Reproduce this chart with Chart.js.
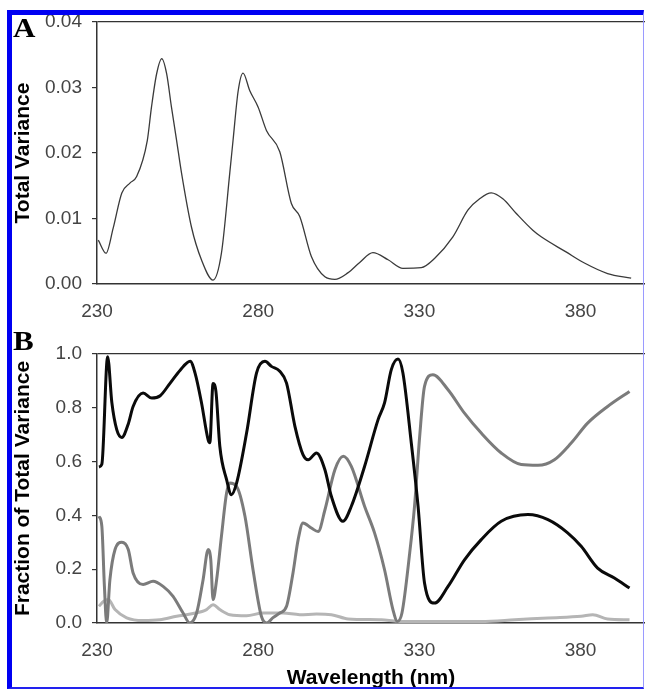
<!DOCTYPE html>
<html>
<head>
<meta charset="utf-8">
<title>Total variance / fraction of total variance</title>
<script src="https://cdn.jsdelivr.net/npm/chart.js@4.4.1/dist/chart.umd.min.js"></script>
<style>
  html, body { margin:0; padding:0; background:#fff; overflow:hidden; }
  #wrap { position:relative; width:645px; height:689px; background:#fff; }
  #wrap canvas { position:absolute; left:0; }
  #cA { top:0; }
  #cB { top:330px; }
  .frame {
    position:absolute; left:7px; top:10px; width:637px; height:679px; box-sizing:border-box;
    border-left:5px solid #0000f2; border-top:5px solid #0000f2;
    border-right:1px solid #9a9aff; border-bottom:2px solid #2222ee;
    pointer-events:none;
  }
  .panel {
    position:absolute; left:13px; font:bold 27px "Liberation Serif", "Times New Roman", serif;
    line-height:27px; color:#000; transform:scaleX(1.15); transform-origin:left top;
  }
</style>
</head>
<body>
<div id="wrap">
  <canvas id="cA" width="645" height="330"></canvas>
  <canvas id="cB" width="645" height="359"></canvas>
  <div class="panel" style="top:15px">A</div>
  <div class="panel" style="top:328px">B</div>
  <div class="frame"></div>
</div>

<script>
// ── Data ─────────────────────────────────────────────────────────
const wlTicks = [230, 280, 330, 380];
const varTicks = [0, 0.01, 0.02, 0.03, 0.04];
const fracTicks = [0, 0.2, 0.4, 0.6, 0.8, 1.0];

// Panel A: total variance
const totalWl = [230.4, 232.8, 235, 237.7, 240.2, 242.3, 245.6, 246.9, 248.5, 250.1, 251.6, 253.1,
  254.7, 256.2, 259.3, 262.4, 266, 268.6, 271.2, 272.2, 273.8, 275.3, 277.4, 280, 282.6, 286.7, 290.3,
  292.9, 296.5, 300.7, 303.8, 307.8, 311.5, 315.6, 320.3, 324.9, 330.6, 334.7, 340.4, 345.1, 348.7,
  352.3, 355.9, 360, 365.2, 367.8, 375.5, 381.2, 388.4, 395.7];
const totalVar = [0.0067, 0.0047, 0.0085, 0.0139, 0.0154, 0.0164, 0.0219, 0.027, 0.0321, 0.0344,
  0.0321, 0.027, 0.0219, 0.017, 0.0087, 0.0037, 0.0006, 0.0047, 0.017, 0.0219, 0.0295, 0.0322, 0.0295,
  0.027, 0.0234, 0.0202, 0.0123, 0.0103, 0.0042, 0.0011, 0.0007, 0.0017, 0.0033, 0.0048, 0.0037,
  0.0024, 0.0025, 0.0039, 0.0072, 0.0113, 0.013, 0.0139, 0.013, 0.0108, 0.0082, 0.0072, 0.0049,
  0.0032, 0.0016, 0.0009];

// Panel B: fraction of total variance, three components
const blackWl = [230.6, 231.5, 233.3, 234.6, 236.1, 237.7, 239.7, 241.2, 244.3, 247, 249.6, 252.7,
  255.8, 258.9, 260.4, 262.4, 264.5, 265, 266, 266.9, 268.1, 270.2, 271.7, 273.3, 276.4, 279.5, 282.1,
  284.1, 286.7, 288.8, 291.4, 293.9, 295.5, 298.1, 300.7, 302.7, 306.3, 308.9, 313, 317.2, 319.2,
  321.3, 323.4, 324.9, 327.5, 329.6, 331.6, 334.7, 338.9, 344, 349.2, 355.4, 363.7, 369.9, 376,
  380.2, 385.3, 390.5, 395.2];
const blackVal = [0.58, 0.59, 0.99, 0.82, 0.72, 0.69, 0.74, 0.805, 0.855, 0.836, 0.845, 0.892, 0.94,
  0.973, 0.93, 0.82, 0.68, 0.67, 0.89, 0.86, 0.657, 0.533, 0.477, 0.52, 0.706, 0.93, 0.973, 0.954,
  0.936, 0.892, 0.731, 0.626, 0.607, 0.632, 0.57, 0.471, 0.378, 0.434, 0.582, 0.756, 0.818, 0.942,
  0.981, 0.929, 0.669, 0.434, 0.149, 0.074, 0.136, 0.235, 0.31, 0.378, 0.403, 0.384, 0.335, 0.285,
  0.204, 0.167, 0.13];

const greyWl = [230.6, 231.5, 232.3, 233, 234, 235.6, 237.7, 239.7, 241.2, 244.3, 247.4, 250.5, 253.6,
  256.7, 258.8, 260.9, 262.9, 264.5, 265.3, 266, 267.1, 268.6, 270.2, 271.2, 273.3, 275.9, 278.4, 281,
  282.6, 284.6, 286.7, 288.8, 290.8, 292.4, 293.9, 296.5, 298.6, 300.7, 303.8, 306.4, 308.9, 313,
  316.1, 319.2, 321.8, 323.2, 324.6, 327, 328.5, 330.1, 331.6, 334.2, 338.9, 344, 349.2, 355.4, 361.6,
  366.8, 371.9, 377.1, 382.2, 388.4, 395.2];
const greyVal = [0.397, 0.36, 0.136, 0.0, 0.16, 0.273, 0.30, 0.273, 0.186, 0.143, 0.155, 0.136, 0.099,
  0.037, 0.0, 0.037, 0.16, 0.273, 0.235, 0.087, 0.16, 0.322, 0.483, 0.52, 0.508, 0.397, 0.198, 0.025,
  0.0, 0.02, 0.037, 0.062, 0.186, 0.31, 0.372, 0.353, 0.34, 0.42, 0.57, 0.62, 0.582, 0.434, 0.335,
  0.198, 0.05, 0.006, 0.037, 0.26, 0.434, 0.694, 0.88, 0.923, 0.867, 0.78, 0.706, 0.632, 0.589, 0.586,
  0.607, 0.669, 0.743, 0.805, 0.861];

const lightWl = [230.6, 232, 233.5, 235.6, 239.2, 244.3, 249.5, 254.7, 259.8, 264, 266, 268.1, 271.2,
  276.4, 281.5, 287.7, 292.9, 298.1, 302.7, 307.9, 318.2, 323.4, 328.5, 338.9, 349.2, 359.6, 369.9,
  380.2, 383.8, 388.4, 395.2];
const lightVal = [0.062, 0.08, 0.087, 0.05, 0.019, 0.009, 0.012, 0.025, 0.035, 0.05, 0.068, 0.05,
  0.031, 0.027, 0.037, 0.037, 0.031, 0.033, 0.031, 0.015, 0.012, 0.006, 0.006, 0.006, 0.006, 0.012,
  0.019, 0.025, 0.031, 0.015, 0.012];

// ── Shared styling ───────────────────────────────────────────────
const SANS = "'Liberation Sans', Arial, sans-serif";
const tickFont = { family: SANS, size: 19 };
const titleFont = { family: SANS, size: 21, weight: "bold" };

function pts(xs, ys) {
  return xs.map((x, i) => ({ x: x, y: ys[i] }));
}

function line(data, color, width) {
  return {
    data: data,
    borderColor: color,
    borderWidth: width,
    pointRadius: 0,
    fill: false,
    cubicInterpolationMode: "monotone"
  };
}

// x axis: wavelength, fixed ticks, no tick marks
function wlAxis(height, title) {
  return {
    type: "linear",
    min: 230,
    max: 400,
    afterFit: s => { s.height = height; },
    afterBuildTicks: s => { s.ticks = wlTicks.map(v => ({ value: v })); },
    ticks: { color: "#444", font: tickFont, padding: 16, maxRotation: 0, autoSkip: false },
    grid: { display: false, drawTicks: false },
    border: { color: "#333", width: 1.5 },
    title: title
      ? { display: true, text: title, color: "#000", font: { ...titleFont, lineHeight: 1 }, padding: 0 }
      : { display: false }
  };
}

// y axis: only the top gridline is drawn (closes the plot box)
function valAxis(tickVals, digits, title) {
  const top = tickVals[tickVals.length - 1];
  return {
    min: 0,
    max: top,
    afterFit: s => { s.width = 97; },
    afterBuildTicks: s => { s.ticks = tickVals.map(v => ({ value: v })); },
    ticks: { color: "#444", font: tickFont, padding: 10, callback: v => Number(v).toFixed(digits) },
    grid: {
      color: c => (c.tick && Math.abs(c.tick.value - top) < 1e-9 ? "#333" : "rgba(0,0,0,0)"),
      tickColor: "#333",
      tickLength: 5,
      lineWidth: 1.2
    },
    border: { color: "#333", width: 1.5 },
    title: { display: true, text: title, color: "#000", font: titleFont, padding: { top: 11, bottom: 0 } }
  };
}

const baseOpts = {
  responsive: false,
  animation: false,
  devicePixelRatio: 1,
  plugins: { legend: { display: false }, tooltip: { enabled: false } }
};

// ── Panel A ──────────────────────────────────────────────────────
new Chart(document.getElementById("cA"), {
  type: "line",
  data: { datasets: [line(pts(totalWl, totalVar), "#3a3a3a", 1.3)] },
  options: {
    ...baseOpts,
    layout: { padding: { top: 22, left: 0, right: 0, bottom: 0 } },
    scales: {
      x: wlAxis(46, null),
      y: valAxis(varTicks, 2, "Total Variance")
    }
  }
});

// ── Panel B ──────────────────────────────────────────────────────
new Chart(document.getElementById("cB"), {
  type: "line",
  data: {
    datasets: [
      line(pts(blackWl, blackVal), "#0a0a0a", 3),
      line(pts(greyWl, greyVal), "#7b7b7b", 3),
      line(pts(lightWl, lightVal), "#b5b5b5", 3)
    ]
  },
  options: {
    ...baseOpts,
    layout: { padding: { top: 24, left: 0, right: 0, bottom: 0 } },
    scales: {
      x: wlAxis(66, "Wavelength (nm)"),
      y: valAxis(fracTicks, 1, "Fraction of Total Variance")
    }
  }
});
</script>
</body>
</html>
